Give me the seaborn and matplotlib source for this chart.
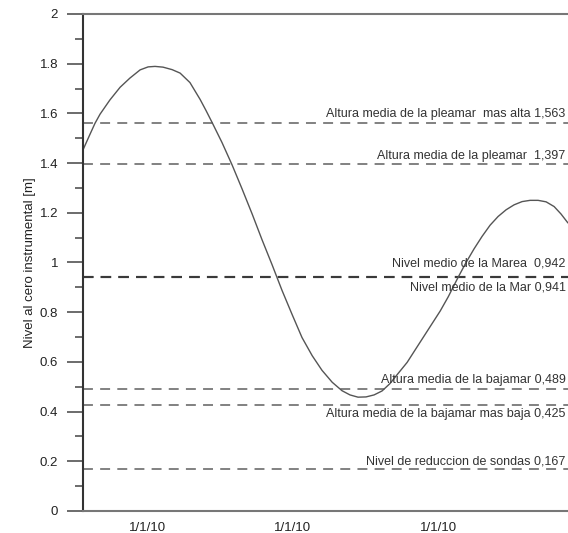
import matplotlib
matplotlib.use("Agg")
import matplotlib.pyplot as plt
import seaborn as sns
import pandas as pd
from matplotlib.ticker import MultipleLocator

# tide curve (hours, level in m)
hours = [0.24, 0.43, 0.57, 0.71, 0.98, 1.26, 1.53, 1.81, 2.03, 2.22, 2.44, 2.69, 2.91, 3.18,
         3.46, 3.62, 3.79, 4.06, 4.34, 4.61, 4.89, 5.16, 5.44, 5.71, 5.99, 6.26, 6.54, 6.81,
         7.09, 7.36, 7.58, 7.80, 8.02, 8.24, 8.46, 8.68, 8.90, 9.15, 9.40, 9.62, 9.84, 10.06,
         10.28, 10.55, 10.77, 10.99, 11.21, 11.43, 11.65, 11.87, 12.09, 12.31, 12.53, 12.75,
         12.97, 13.19, 13.38, 13.57]
level = [1.453, 1.515, 1.560, 1.597, 1.654, 1.705, 1.742, 1.775, 1.787, 1.789, 1.786, 1.776,
         1.762, 1.724, 1.656, 1.612, 1.563, 1.483, 1.392, 1.297, 1.195, 1.092, 0.990, 0.888,
         0.790, 0.698, 0.625, 0.566, 0.518, 0.484, 0.467, 0.458, 0.459, 0.467, 0.483, 0.513,
         0.553, 0.598, 0.655, 0.705, 0.755, 0.805, 0.862, 0.940, 1.000, 1.055, 1.105, 1.150,
         1.185, 1.212, 1.232, 1.245, 1.250, 1.250, 1.244, 1.225, 1.195, 1.159]

# reference levels
ref_values = [1.563, 1.397, 0.942, 0.942, 0.489, 0.425, 0.167]
ref_labels = ["Altura media de la pleamar  mas alta 1,563",
              "Altura media de la pleamar  1,397",
              "Nivel medio de la Marea  0,942",
              "Nivel medio de la Mar 0,941",
              "Altura media de la bajamar 0,489",
              "Altura media de la bajamar mas baja 0,425",
              "Nivel de reduccion de sondas 0,167"]
# label baseline (m)
label_y = [1.585, 1.417, 0.982, 0.889, 0.515, 0.378, 0.189]

tick_hours = [2, 6, 10]
tick_labels = ["1/1/10", "1/1/10", "1/1/10"]

sns.set_theme(style="white")
plt.rcParams['font.family'] = ['Liberation Sans', 'DejaVu Sans']

fig = plt.figure(figsize=(5.68, 5.33), dpi=100)
ax = fig.add_axes([0.1461, 0.0413, 0.9454, 0.9325])

df = pd.DataFrame({'hora': hours, 'nivel': level})
sns.lineplot(data=df, x='hora', y='nivel', ax=ax, color='#555555', linewidth=1.0)

for i, v in enumerate(ref_values):
    if i in (2, 3):
        ax.axhline(v, color='#3a3a3a', linewidth=1.5, dashes=(5, 3.5), zorder=1)
    else:
        ax.axhline(v, color='#777777', linewidth=1.3, dashes=(5.5, 4), zorder=1)

# labels kept inside the visible part of the figure
for lab, y in zip(ref_labels, label_y):
    ax.text(0.899, y, lab, transform=ax.get_yaxis_transform(), ha='right', va='baseline',
            fontsize=9, color='#333333')

ax.set_xlim(0.24, 15.0)
ax.set_ylim(0, 2)
ax.yaxis.set_minor_locator(MultipleLocator(0.1))
ax.set_yticks([0, 0.2, 0.4, 0.6, 0.8, 1, 1.2, 1.4, 1.6, 1.8, 2])
ax.set_yticklabels(["0", "0.2", "0.4", "0.6", "0.8", "1", "1.2", "1.4", "1.6", "1.8", "2"])
ax.set_xticks(tick_hours)
ax.set_xticklabels(tick_labels)

ax.tick_params(axis='y', which='major', direction='out', length=11.5, width=1.1,
               color='#444444', pad=6.5, labelsize=9.5, labelcolor='#222222', left=True)
ax.tick_params(axis='y', which='minor', direction='out', length=5.8, width=1.1,
               color='#444444', left=True)
ax.tick_params(axis='x', length=0, pad=8, labelsize=9.5, labelcolor='#222222')

ax.spines['left'].set_color('#333333')
ax.spines['left'].set_linewidth(1.5)
for s in ('top', 'bottom'):
    ax.spines[s].set_color('#777777')
    ax.spines[s].set_linewidth(1.5)
ax.spines['right'].set_visible(False)

ax.set_xlabel('')
ax.set_ylabel('Nivel al cero instrumental [m]', fontsize=9.5, color='#222222')
ax.yaxis.set_label_coords(-0.088, 0.5)
ax.grid(False)

fig.savefig('out.png', dpi=100)
